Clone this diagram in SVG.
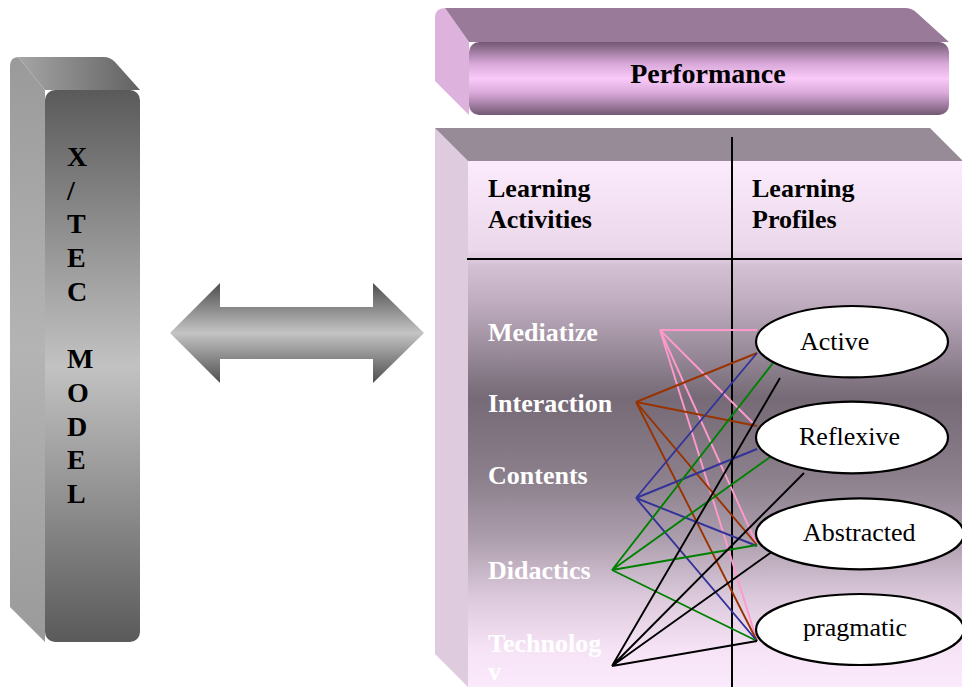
<svg xmlns="http://www.w3.org/2000/svg" width="962" height="687" viewBox="0 0 962 687">
<defs>
<linearGradient id="gFrontGray" gradientUnits="userSpaceOnUse" x1="0" y1="90" x2="0" y2="642">
<stop offset="0" stop-color="#5a5a5a"/><stop offset="0.5" stop-color="#c2c2c2"/><stop offset="1" stop-color="#5a5a5a"/>
</linearGradient>
<linearGradient id="gSideGray" gradientUnits="userSpaceOnUse" x1="0" y1="57" x2="0" y2="642">
<stop offset="0" stop-color="#9a9a9a"/><stop offset="0.5" stop-color="#b4b4b4"/><stop offset="1" stop-color="#9a9a9a"/>
</linearGradient>
<linearGradient id="gTopGray" gradientUnits="userSpaceOnUse" x1="20" y1="0" x2="140" y2="0">
<stop offset="0" stop-color="#a4a4a4"/><stop offset="1" stop-color="#626262"/>
</linearGradient>
<linearGradient id="gArrow" gradientUnits="userSpaceOnUse" x1="0" y1="283" x2="0" y2="383">
<stop offset="0" stop-color="#4e4e4e"/><stop offset="0.5" stop-color="#c4c4c4"/><stop offset="1" stop-color="#4e4e4e"/>
</linearGradient>
<linearGradient id="gPerf" gradientUnits="userSpaceOnUse" x1="0" y1="42" x2="0" y2="115">
<stop offset="0" stop-color="#735873"/><stop offset="0.3" stop-color="#d9a9d9"/><stop offset="0.5" stop-color="#f9c9f9"/><stop offset="0.7" stop-color="#d9a9d9"/><stop offset="1" stop-color="#735873"/>
</linearGradient>
<linearGradient id="gTable" gradientUnits="userSpaceOnUse" x1="0" y1="161" x2="0" y2="687">
<stop offset="0" stop-color="#fcebfc"/>
<stop offset="0.17" stop-color="#ead8ea"/>
<stop offset="0.2" stop-color="#d3c0d3"/>
<stop offset="0.27" stop-color="#bfadbf"/>
<stop offset="0.45" stop-color="#756a76"/>
<stop offset="0.6" stop-color="#8b7f8b"/>
<stop offset="0.72" stop-color="#ad9ead"/>
<stop offset="0.83" stop-color="#dccadc"/>
<stop offset="0.93" stop-color="#f6e4f6"/>
<stop offset="1" stop-color="#fbeafb"/>
</linearGradient>
<style>
.bold{font-family:"Liberation Serif","Times New Roman",serif;font-weight:bold;font-size:26px;fill:#000}
.big{font-family:"Liberation Serif","Times New Roman",serif;font-weight:bold;font-size:28px;fill:#000}
.wt{font-family:"Liberation Serif","Times New Roman",serif;font-weight:bold;font-size:26px;fill:#ffffff}
.el{font-family:"Liberation Serif","Times New Roman",serif;font-size:26px;fill:#000}
.ell{fill:#ffffff;stroke:#000;stroke-width:2.2}
.c{fill:none;stroke-width:1.9}
.pk{stroke:#ff99cc}.br{stroke:#993300}.bl{stroke:#333399}.gr{stroke:#008000}.bk{stroke:#000000}
</style>
</defs>
<rect width="962" height="687" fill="#ffffff"/>

<g id="xtec-model">
<path d="M10,67 Q10,57 18,57 L45,90 L45,642 L10,607 Z" fill="url(#gSideGray)"/>
<path d="M18,57 L104,57 Q110,57 115,62 L140,90 L45,90 Z" fill="url(#gTopGray)"/>
<rect x="45" y="90" width="95" height="552" rx="10" fill="url(#gFrontGray)"/>
<text class="big" x="67" y="166">X</text>
<text class="big" x="67" y="199.7">/</text>
<text class="big" x="67" y="233.4">T</text>
<text class="big" x="67" y="267.1">E</text>
<text class="big" x="67" y="300.8">C</text>
<text class="big" x="67" y="368.2">M</text>
<text class="big" x="67" y="401.9">O</text>
<text class="big" x="67" y="435.6">D</text>
<text class="big" x="67" y="469.3">E</text>
<text class="big" x="67" y="503">L</text>
</g>

<g id="double-arrow">
<path d="M170,333 L220,283 L220,307 L373,307 L373,283 L424,333 L373,383 L373,359 L220,359 L220,383 Z" fill="url(#gArrow)"/>
</g>

<g id="performance">
<path d="M435,18 Q435,8 445,8 L469,42 L469,115 L435,81 Z" fill="#ddb2dd"/>
<path d="M445,8 L905,8 Q912,8 917,13 L949,42 L469,42 Z" fill="#997a99"/>
<rect x="469" y="42" width="480" height="73" rx="10" fill="url(#gPerf)"/>
<text class="big" x="708" y="83" text-anchor="middle">Performance</text>
</g>

<g id="table">
<polygon points="435,128 468,161 468,687 435,654" fill="#decbde"/>
<polygon points="435,128 930,128 963,161 468,161" fill="#978b97"/>
<rect x="468" y="161" width="494" height="526" fill="url(#gTable)"/>
<line x1="467" y1="259" x2="962" y2="259" stroke="#000" stroke-width="2"/>
<line x1="732" y1="137" x2="732" y2="687" stroke="#000" stroke-width="2"/>
<text class="bold" x="488" y="197">Learning</text>
<text class="bold" x="488" y="228">Activities</text>
<text class="bold" x="752" y="197">Learning</text>
<text class="bold" x="752" y="228">Profiles</text>
</g>

<g id="activities">
<text class="wt" x="488" y="340.5">Mediatize</text>
<text class="wt" x="488" y="412">Interaction</text>
<text class="wt" x="488" y="484">Contents</text>
<text class="wt" x="488" y="578.5">Didactics</text>
<text class="wt" x="488" y="652">Technolog</text>
<text class="wt" x="488" y="680">v</text>
</g>

<g id="connectors">
<path class="c pk" d="M660,330 L757,330 M660,330 L753,423 M660,330 L757,545 M660,330 L757,641"/>
<path class="c br" d="M636,402 L757,353 M636,402 L757,426 M636,402 L757,545 M636,402 L757,641"/>
<path class="c bl" d="M636,498 L757,353 M636,498 L757,449 M636,498 L757,546 M636,498 L757,641"/>
<path class="c gr" d="M612,570 L780,354 M612,570 L780,450 M612,570 L757,545 M612,570 L757,641"/>
<path class="c bk" d="M612,666 L780,378 M612,666 L804,473 M612,666 L780,546 M612,666 L757,641"/>
</g>

<g id="active">
<ellipse class="ell" cx="852" cy="341.7" rx="96" ry="35.7"/>
<text class="el" x="800" y="349.5">Active</text>
</g>
<g id="reflexive">
<ellipse class="ell" cx="852" cy="437.5" rx="96" ry="35.8"/>
<text class="el" x="799" y="444.5">Reflexive</text>
</g>
<g id="abstracted">
<ellipse class="ell" cx="860" cy="533.8" rx="104" ry="35.5"/>
<text class="el" x="803" y="540.5">Abstracted</text>
</g>
<g id="pragmatic">
<ellipse class="ell" cx="860" cy="629.5" rx="104" ry="35.5"/>
<text class="el" x="803" y="635.5">pragmatic</text>
</g>
</svg>
